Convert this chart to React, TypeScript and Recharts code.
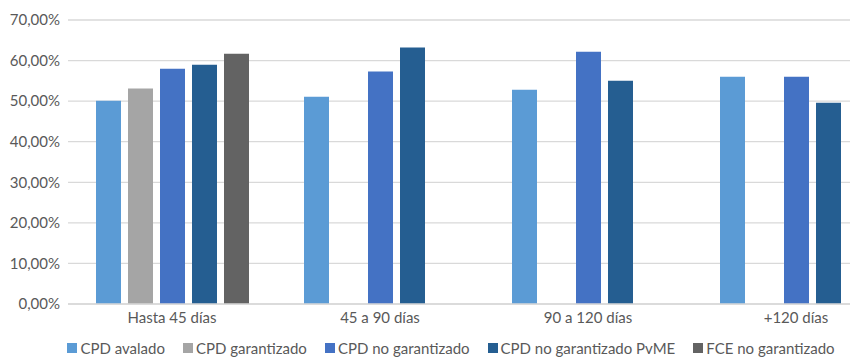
import React from "react";
import { Bar, BarChart, CartesianGrid, Legend, XAxis, YAxis } from "recharts";

const categories = ["Hasta 45 días", "45 a 90 días", "90 a 120 días", "+120 días"];
const cpdAvalado = [50.1, 51.1, 52.8, 56.0];
const cpdGarantizado = [53.1, null, null, null];
const cpdNoGarantizado = [58.0, 57.3, 62.2, 56.0];
const cpdNoGarantizadoPyme = [59.0, 63.2, 55.0, 49.6];
const fceNoGarantizado = [61.7, null, null, null];
const yTicks = [0, 10, 20, 30, 40, 50, 60, 70];

const series = [
  { key: "avalado", name: "CPD avalado", color: "#5B9BD5", values: cpdAvalado },
  { key: "garantizado", name: "CPD garantizado", color: "#A5A5A5", values: cpdGarantizado },
  { key: "noGarantizado", name: "CPD no garantizado", color: "#4472C4", values: cpdNoGarantizado },
  { key: "pyme", name: "CPD no garantizado PvME", color: "#255E91", values: cpdNoGarantizadoPyme },
  { key: "fce", name: "FCE no garantizado", color: "#636363", values: fceNoGarantizado },
];

const data = categories.map((cat, i) => {
  const row: Record<string, string | number | null> = { cat };
  series.forEach((s) => {
    row[s.key] = s.values[i];
  });
  return row;
});

const FONT = "Lato, 'Noto Sans', sans-serif";
const TEXT = "#595959";

const pct = (v: number) => `${v.toFixed(2).replace(".", ",")}%`;

function LegendRow() {
  return (
    <div
      style={{
        display: "flex",
        justifyContent: "center",
        alignItems: "center",
        height: 20,
        paddingLeft: 20,
        fontSize: 15,
        lineHeight: "18px",
        color: TEXT,
      }}
    >
      {series.map((s) => (
        <div key={s.key} style={{ display: "flex", alignItems: "center", marginRight: 18 }}>
          <span style={{ width: 10, height: 10, background: s.color, marginRight: 3 }} />
          <span>{s.name}</span>
        </div>
      ))}
    </div>
  );
}

export default function App() {
  return (
    <div
      style={{
        position: "fixed",
        left: 0,
        top: 0,
        width: 850,
        height: 358,
        overflow: "hidden",
        background: "#fff",
        fontFamily: FONT,
      }}
    >
      <BarChart
        width={900}
        height={358}
        data={data}
        margin={{ top: 20, right: 0, bottom: 0, left: 0 }}
        barSize={25}
        barGap={7}
      >
        <CartesianGrid vertical={false} stroke="#D9D9D9" strokeWidth={1.3} />
        <XAxis
          dataKey="cat"
          height={34}
          tickLine={false}
          axisLine={{ stroke: "#D9D9D9", strokeWidth: 1.3 }}
          tick={{ fill: TEXT, fontSize: 15, fontFamily: FONT }}
          interval={0}
        />
        <YAxis
          width={68}
          domain={[0, 70]}
          ticks={yTicks}
          tickFormatter={pct}
          tickLine={false}
          axisLine={false}
          tick={{ fill: TEXT, fontSize: 15, fontFamily: FONT }}
        />
        <Legend verticalAlign="bottom" height={20} content={() => <LegendRow />} />
        {series.map((s) => (
          <Bar key={s.key} dataKey={s.key} name={s.name} fill={s.color} isAnimationActive={false} />
        ))}
      </BarChart>
    </div>
  );
}
